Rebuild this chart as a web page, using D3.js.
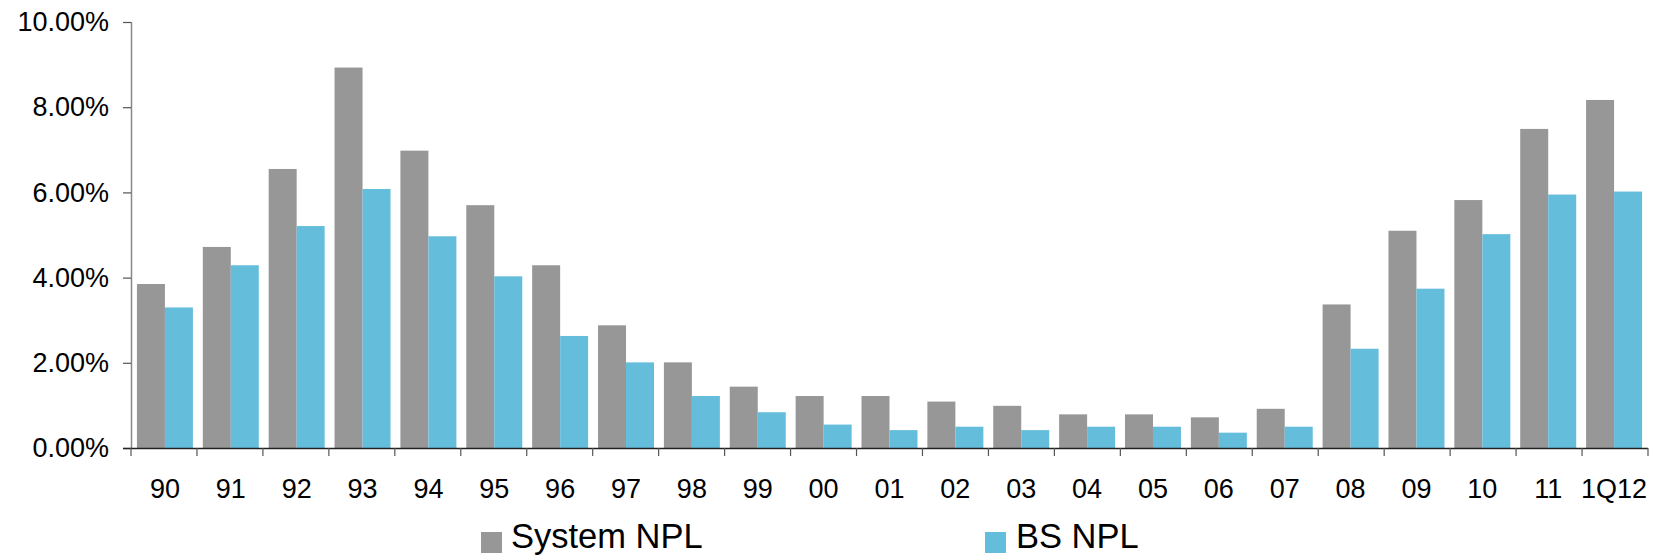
<!DOCTYPE html>
<html>
<head>
<meta charset="utf-8">
<script src="https://cdn.jsdelivr.net/npm/d3@7"></script>
<style>
  html, body { margin: 0; padding: 0; background: #fff; }
  svg { display: block; font-family: "Liberation Sans", Arial, sans-serif; }
</style>
</head>
<body>
<svg id="chart" width="1657" height="556"></svg>
<script>
const categories = ["90","91","92","93","94","95","96","97","98","99","00","01","02","03","04","05","06","07","08","09","10","11","1Q12"];
const seriesNames = ["System NPL", "BS NPL"];
const systemNPL = [3.85, 4.72, 6.55, 8.93, 6.98, 5.70, 4.29, 2.88, 2.01, 1.44, 1.22, 1.22, 1.09, 0.99, 0.79, 0.79, 0.72, 0.92, 3.37, 5.10, 5.82, 7.49, 8.17];
const bsNPL = [3.30, 4.29, 5.21, 6.08, 4.97, 4.03, 2.63, 2.01, 1.22, 0.84, 0.55, 0.42, 0.50, 0.42, 0.50, 0.50, 0.36, 0.50, 2.33, 3.74, 5.02, 5.95, 6.02];
const yTicks = [0, 2, 4, 6, 8, 10];
const colors = ["#979797", "#65bddc"];

(function () {
const svg = d3.select("#chart");
const mLeft = 131, mRight = 1648, mTop = 22, mBottom = 448;

const x0 = d3.scaleBand().domain(categories).range([mLeft, mRight])
  .paddingInner(0.15).paddingOuter(0.09);
const x1 = d3.scaleBand().domain(seriesNames).range([0, x0.bandwidth()]);
const y = d3.scaleLinear().domain([0, 10]).range([mBottom, mTop]);

const data = categories.map((c, i) => ({ cat: c, vals: [systemNPL[i], bsNPL[i]] }));

// bars
const groups = svg.append("g").selectAll("g").data(data).join("g")
  .attr("transform", d => `translate(${x0(d.cat)},0)`);
groups.selectAll("rect").data(d => d.vals.map((v, j) => ({ v, j })))
  .join("rect")
  .attr("x", d => x1(seriesNames[d.j]))
  .attr("y", d => y(d.v))
  .attr("width", x1.bandwidth())
  .attr("height", d => y(0) - y(d.v))
  .attr("fill", d => colors[d.j]);

// y axis
const yAxis = d3.axisLeft(y).tickValues(yTicks).tickSize(8).tickPadding(14)
  .tickFormat(d => d.toFixed(2) + "%");
const gy = svg.append("g").attr("transform", `translate(${mLeft},0)`).call(yAxis);
gy.select(".domain").attr("stroke", "#888").attr("stroke-width", 1.5).attr("d", `M0.5,${mTop}V${mBottom}`);
gy.selectAll(".tick line").attr("stroke", "#555").attr("stroke-width", 1.2);
gy.selectAll(".tick text").attr("font-size", 27).attr("fill", "#000")
  .attr("font-family", "Liberation Sans, Arial, sans-serif");

// x axis: ticks at band boundaries
const n = categories.length;
const boundaries = d3.range(n + 1).map(i => mLeft + i * (mRight - mLeft) / n);
const gx = svg.append("g");
gx.append("line").attr("x1", mLeft - 8).attr("x2", mRight).attr("y1", mBottom + 0.5).attr("y2", mBottom + 0.5)
  .attr("stroke", "#222").attr("stroke-width", 1.5);
gx.selectAll("line.tk").data(boundaries).join("line").attr("class", "tk")
  .attr("x1", d => d).attr("x2", d => d).attr("y1", mBottom).attr("y2", mBottom + 8)
  .attr("stroke", "#555").attr("stroke-width", 1.2);
gx.selectAll("text").data(categories).join("text")
  .attr("x", d => x0(d) + x0.bandwidth() / 2)
  .attr("y", 498)
  .attr("text-anchor", "middle")
  .attr("font-size", 27)
  .attr("fill", "#000")
  .text(d => d);

// legend
const legendX = [481, 985];
const lg = svg.append("g").selectAll("g").data(seriesNames).join("g")
  .attr("transform", (d, i) => `translate(${legendX[i]},532)`);
lg.append("rect").attr("width", 21).attr("height", 21).attr("fill", (d, i) => colors[i]);
lg.append("text").attr("x", (d, i) => i === 0 ? 30 : 31).attr("y", 16)
  .attr("font-size", 34.5).attr("fill", "#000").text(d => d);
})();
</script>
</body>
</html>
